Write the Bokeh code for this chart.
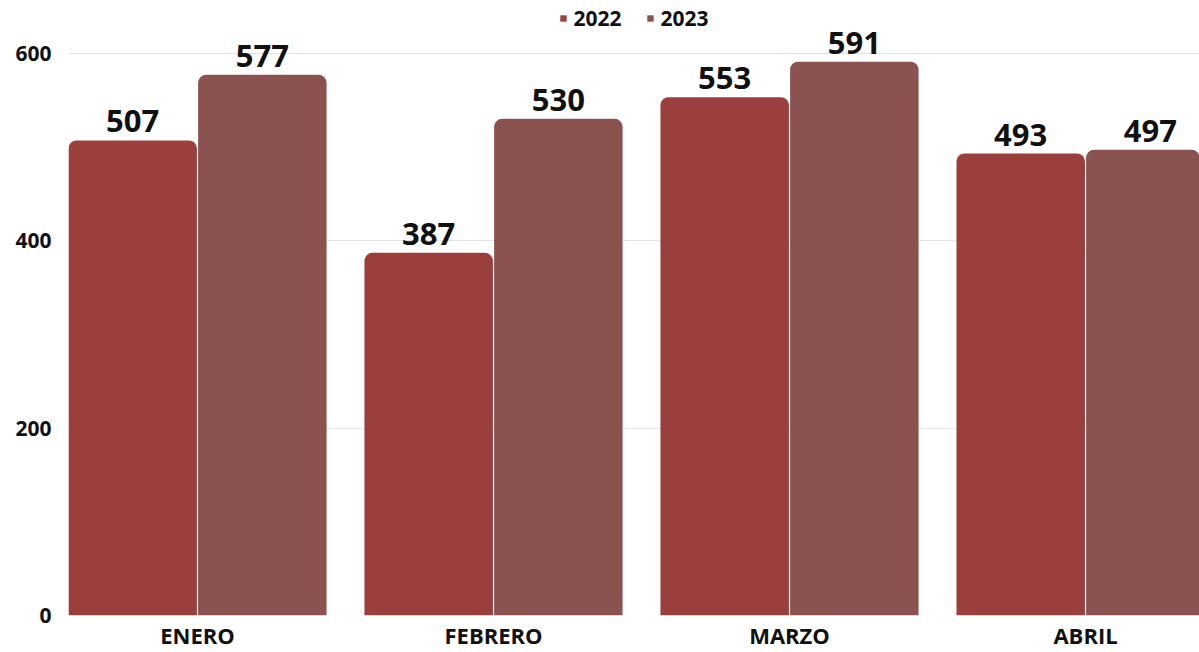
from bokeh.plotting import figure
from bokeh.models import ColumnDataSource, Range1d, FixedTicker, Legend, LegendItem
from bokeh.embed import file_html
from bokeh.resources import INLINE
from bokeh.core.properties import value

months = ["ENERO", "FEBRERO", "MARZO", "ABRIL"]
series_names = ["2022", "2023"]
values_2022 = [507, 387, 553, 493]
values_2023 = [577, 530, 591, 497]
y_ticks = [0, 200, 400, 600]

colors = ["#9B3F3C", "#8B5350"]
FONT = "Open Sans"

p = figure(width=1199, height=652, output_backend="svg", toolbar_location=None,
           x_range=Range1d(-0.4358, 3.385), y_range=Range1d(0, 652),
           min_border_left=68, min_border_right=0, min_border_top=4, min_border_bottom=30)
p.outline_line_color = None
p.background_fill_color = "white"

idx = list(range(len(months)))
bar_w = 0.434
offsets = [-0.219, 0.219]
renderers = []
for vals, off, col in zip([values_2022, values_2023], offsets, colors):
    src = ColumnDataSource(dict(x=[i + off for i in idx], top=vals, lab=[str(v) for v in vals]))
    r = p.vbar(x="x", top="top", width=bar_w, bottom=0, source=src, fill_color=col,
               line_color=None, border_radius=(8, 8, 0, 0))
    renderers.append(r)
    p.text(x="x", y="top", text="lab", source=src, text_align="center",
           text_baseline="bottom", y_offset=-8, text_font=value(FONT),
           text_font_style="bold", text_font_size="31px", text_color="#111111")

# axes
p.xaxis.ticker = FixedTicker(ticks=idx)
p.xaxis.major_label_overrides = {i: m for i, m in zip(idx, months)}
p.yaxis.ticker = FixedTicker(ticks=y_ticks)
for ax in (p.xaxis, p.yaxis):
    ax.axis_line_color = None
    ax.major_tick_line_color = None
    ax.minor_tick_line_color = None
    ax.major_tick_out = 0
    ax.minor_tick_out = 0
    ax.major_tick_in = 0
    ax.minor_tick_in = 0
    ax.major_label_text_font = FONT
    ax.major_label_text_font_style = "bold"
    ax.major_label_text_color = "#111111"
p.xaxis.major_label_text_font_size = "22px"
p.yaxis.major_label_text_font_size = "21px"
p.xaxis.major_label_standoff = 4
p.yaxis.major_label_standoff = 17

p.xgrid.grid_line_color = None
p.ygrid.ticker = FixedTicker(ticks=y_ticks)
p.ygrid.grid_line_color = "#e3e3e3"
p.ygrid.grid_line_width = 1

legend = Legend(items=[LegendItem(label=n, renderers=[r]) for n, r in zip(series_names, renderers)],
                location="top_center", orientation="horizontal",
                glyph_width=8, glyph_height=8, label_text_font=FONT,
                label_text_font_style="bold", label_text_font_size="21px",
                label_text_color="#111111", background_fill_alpha=0,
                border_line_color=None, spacing=24, label_standoff=7, margin=0, padding=6)
p.add_layout(legend)

open("out.html", "w").write(file_html(p, INLINE))
